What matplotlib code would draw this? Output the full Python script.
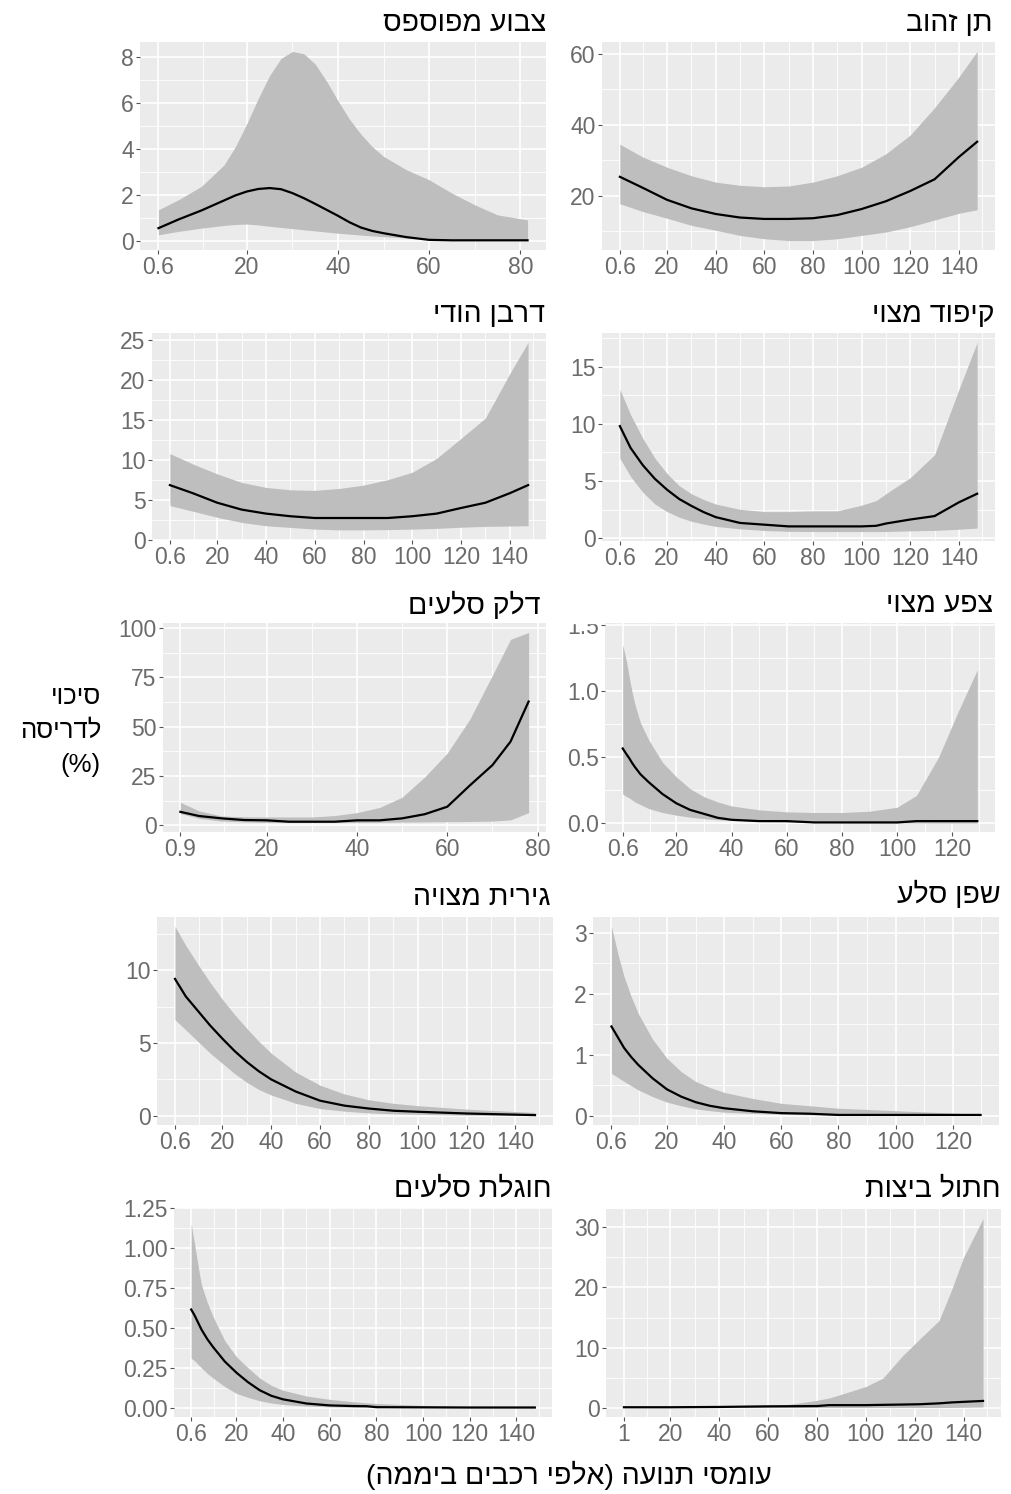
import matplotlib
matplotlib.use('Agg')
import matplotlib.pyplot as plt
from matplotlib.patches import Rectangle
import numpy as np

plt.rcParams['font.family'] = ['Liberation Sans', 'DejaVu Sans']

# ---- data ----
# striped hyena
x_hyena = [0.6, 5, 10, 15, 17.5, 20, 22.5, 25, 27.5, 30, 32.5, 35, 37.5, 40, 42.5, 45, 47.5, 50, 55, 60, 65, 70, 75, 81.6]
mid_hyena = [0.54, 0.92, 1.31, 1.75, 1.97, 2.14, 2.25, 2.29, 2.24, 2.07, 1.85, 1.6, 1.34, 1.08, 0.8, 0.57, 0.42, 0.32, 0.15, 0.03, 0.01, 0.01, 0.01, 0.01]
hi_hyena = [1.34, 1.78, 2.36, 3.3, 4.1, 5.1, 6.2, 7.2, 7.95, 8.25, 8.15, 7.7, 6.95, 6.1, 5.3, 4.65, 4.1, 3.67, 3.09, 2.65, 2.07, 1.56, 1.12, 0.9]
lo_hyena = [0.25, 0.4, 0.54, 0.66, 0.7, 0.72, 0.68, 0.62, 0.57, 0.52, 0.47, 0.42, 0.37, 0.32, 0.28, 0.24, 0.2, 0.17, 0.11, 0.06, 0.03, 0.02, 0.01, 0.0]

# golden jackal
x_jackal = [0.6, 10, 20, 30, 40, 50, 60, 70, 80, 90, 100, 110, 120, 130, 140, 147.5]
mid_jackal = [25.3, 22.2, 18.8, 16.4, 14.8, 13.8, 13.4, 13.4, 13.6, 14.5, 16.2, 18.4, 21.3, 24.6, 30.9, 35.2]
hi_jackal = [34.5, 30.9, 28, 25.6, 23.8, 22.9, 22.5, 22.7, 23.8, 25.6, 28, 31.8, 37.1, 44.8, 53.5, 60.7]
lo_jackal = [17.7, 15.5, 13.6, 11.6, 10.2, 8.75, 7.8, 7.3, 7.3, 7.8, 8.75, 9.7, 11.2, 13.1, 15, 16]

# indian porcupine
x_porc = [0.6, 10, 20, 30, 40, 50, 60, 70, 80, 90, 100, 110, 120, 130, 140, 147.5]
mid_porc = [6.86, 5.85, 4.66, 3.8, 3.3, 2.97, 2.75, 2.75, 2.75, 2.75, 2.97, 3.3, 4.0, 4.66, 5.85, 6.86]
hi_porc = [10.8, 9.5, 8.26, 7.2, 6.57, 6.27, 6.2, 6.44, 6.86, 7.54, 8.47, 10.2, 12.7, 15.25, 20.8, 24.7]
lo_porc = [4.3, 3.6, 2.84, 2.2, 1.78, 1.57, 1.36, 1.27, 1.27, 1.3, 1.36, 1.45, 1.6, 1.7, 1.75, 1.78]

# hedgehog
x_hedge = [0.6, 5, 10, 15, 20, 25, 30, 35, 40, 50, 60, 70, 80, 90, 100, 106, 110, 120, 130, 140, 147.5]
mid_hedge = [9.8, 7.9, 6.4, 5.2, 4.25, 3.44, 2.84, 2.3, 1.86, 1.35, 1.2, 1.05, 1.05, 1.05, 1.05, 1.1, 1.3, 1.65, 1.95, 3.15, 3.9]
hi_hedge = [13, 10.8, 8.74, 7.0, 5.66, 4.6, 3.9, 3.4, 3.0, 2.54, 2.34, 2.34, 2.4, 2.4, 2.9, 3.3, 3.9, 5.3, 7.3, 13.0, 17.1]
lo_hedge = [7, 5.4, 4.04, 3.0, 2.34, 1.85, 1.5, 1.25, 1.05, 0.84, 0.69, 0.62, 0.6, 0.6, 0.6, 0.6, 0.6, 0.66, 0.7, 0.8, 0.9]

# stone marten
x_marten = [0.9, 5, 10, 15, 20, 25, 30, 35, 40, 45, 50, 55, 60, 65, 70, 74, 78]
mid_marten = [6.9, 4.8, 3.6, 2.75, 2.6, 1.9, 1.9, 1.9, 2.6, 2.6, 3.6, 5.7, 9.5, 20.3, 30.6, 42.5, 62.8]
hi_marten = [11.7, 7.4, 4.8, 4.4, 4.3, 4.3, 4.3, 5.0, 6.5, 9.1, 14.3, 24.6, 36.7, 53.9, 76.2, 94.3, 97.8]
lo_marten = [6, 3.6, 2.2, 1.8, 1.5, 1.5, 1.5, 1.5, 1.5, 1.6, 1.7, 1.8, 1.9, 2.0, 2.2, 2.8, 6.5]

# viper
x_viper = [0.6, 2, 3, 4, 5, 7, 10, 15, 20, 25, 30, 35, 40, 50, 60, 70, 80, 90, 100, 107, 115, 122, 129]
mid_viper = [0.565, 0.52, 0.49, 0.455, 0.425, 0.37, 0.31, 0.22, 0.15, 0.10, 0.07, 0.04, 0.025, 0.015, 0.015, 0.005, 0.005, 0.005, 0.005, 0.015, 0.015, 0.015, 0.015]
hi_viper = [1.35, 1.22, 1.1, 0.99, 0.9, 0.76, 0.63, 0.46, 0.35, 0.26, 0.2, 0.16, 0.13, 0.10, 0.085, 0.08, 0.08, 0.09, 0.12, 0.21, 0.5, 0.84, 1.16]
lo_viper = [0.22, 0.2, 0.19, 0.175, 0.16, 0.14, 0.11, 0.08, 0.06, 0.045, 0.033, 0.025, 0.02, 0.012, 0.008, 0.005, 0.003, 0.002, 0.001, 0.001, 0, 0, 0]

# badger
x_badger = [0.6, 5, 10, 15, 20, 25, 30, 35, 40, 50, 60, 70, 80, 90, 100, 120, 148]
mid_badger = [9.4, 8.2, 7.2, 6.2, 5.3, 4.45, 3.7, 3.05, 2.5, 1.67, 1.04, 0.7, 0.5, 0.35, 0.28, 0.16, 0.05]
hi_badger = [13, 11.7, 10.4, 9.15, 8.0, 6.95, 6.0, 5.1, 4.3, 3.0, 2.1, 1.5, 1.1, 0.86, 0.7, 0.46, 0.23]
lo_badger = [6.6, 5.9, 5.1, 4.3, 3.6, 2.9, 2.3, 1.8, 1.43, 0.86, 0.5, 0.32, 0.2, 0.14, 0.1, 0.05, 0.02]

# rock hyrax
x_hyrax = [0.6, 3, 5, 7.5, 10, 15, 20, 25, 30, 35, 40, 50, 60, 70, 80, 100, 120, 129.7]
mid_hyrax = [1.46, 1.27, 1.11, 0.96, 0.83, 0.61, 0.43, 0.31, 0.22, 0.16, 0.12, 0.07, 0.04, 0.03, 0.01, 0.01, 0.01, 0.01]
hi_hyrax = [3.1, 2.62, 2.28, 1.95, 1.67, 1.25, 0.94, 0.72, 0.56, 0.46, 0.38, 0.28, 0.2, 0.16, 0.12, 0.08, 0.04, 0.02]
lo_hyrax = [0.69, 0.62, 0.56, 0.49, 0.42, 0.31, 0.22, 0.16, 0.11, 0.08, 0.055, 0.035, 0.02, 0.012, 0.008, 0.004, 0.002, 0.0]

# chukar
x_chukar = [0.6, 2, 3, 4, 5, 7.5, 10, 15, 20, 25, 30, 35, 40, 50, 60, 70, 76, 80, 100, 120, 148]
mid_chukar = [0.615, 0.58, 0.55, 0.52, 0.49, 0.43, 0.38, 0.29, 0.22, 0.16, 0.11, 0.075, 0.053, 0.027, 0.015, 0.011, 0.01, 0.004, 0.003, 0.002, 0.002]
hi_chukar = [1.15, 1.03, 0.94, 0.85, 0.77, 0.66, 0.57, 0.42, 0.32, 0.25, 0.186, 0.14, 0.11, 0.074, 0.053, 0.038, 0.031, 0.027, 0.015, 0.006, 0.004]
lo_chukar = [0.31, 0.295, 0.28, 0.265, 0.25, 0.215, 0.186, 0.133, 0.09, 0.065, 0.044, 0.03, 0.021, 0.011, 0.006, 0.004, 0.003, 0.002, 0.001, 0.0, 0.0]

# jungle cat
x_cat = [1, 20, 40, 60, 70, 80, 85, 90, 100, 107, 115, 122, 130, 135, 140, 148]
mid_cat = [0.05, 0.05, 0.1, 0.2, 0.22, 0.25, 0.4, 0.4, 0.4, 0.45, 0.5, 0.55, 0.7, 0.85, 0.95, 1.1]
hi_cat = [0.05, 0.06, 0.07, 0.2, 0.6, 1.2, 1.6, 2.2, 3.5, 4.9, 8.6, 11.4, 14.5, 19.5, 25, 31.5]
lo_cat = [0, 0, 0, 0, 0, 0, 0, 0, 0, 0, 0, 0, 0, 0.02, 0.05, 0.1]

titles = ['צבוע מפוספס', 'תן זהוב', 'דרבן הודי', 'קיפוד מצוי', 'דלק סלעים',
          'צפע מצוי', 'גירית מצויה', 'שפן סלע', 'חוגלת סלעים', 'חתול ביצות']

xt_80 = [0.6, 20, 40, 60, 80]
xt_140 = [0.6, 20, 40, 60, 80, 100, 120, 140]
xt_120 = [0.6, 20, 40, 60, 80, 100, 120]
xt_marten = [0.9, 20, 40, 60, 80]
xt_cat = [1, 20, 40, 60, 80, 100, 120, 140]

yt_hyena = [0, 2, 4, 6, 8]
yt_jackal = [20, 40, 60]
yt_porc = [0, 5, 10, 15, 20, 25]
yt_hedge = [0, 5, 10, 15]
yt_marten = [0, 25, 50, 75, 100]
yt_viper = [0.0, 0.5, 1.0, 1.5]
yt_badger = [0, 5, 10]
yt_hyrax = [0, 1, 2, 3]
yt_chukar = [0.0, 0.25, 0.5, 0.75, 1.0, 1.25]
yt_cat = [0, 10, 20, 30]

ylabel_lines = ['סיכוי', 'לדריסה', '(%)']
xlabel = 'עומסי תנועה (אלפי רכבים ביממה)'

panels = [
    (x_hyena, lo_hyena, mid_hyena, hi_hyena, xt_80, yt_hyena, '%g'),
    (x_jackal, lo_jackal, mid_jackal, hi_jackal, xt_140, yt_jackal, '%g'),
    (x_porc, lo_porc, mid_porc, hi_porc, xt_140, yt_porc, '%g'),
    (x_hedge, lo_hedge, mid_hedge, hi_hedge, xt_140, yt_hedge, '%g'),
    (x_marten, lo_marten, mid_marten, hi_marten, xt_marten, yt_marten, '%g'),
    (x_viper, lo_viper, mid_viper, hi_viper, xt_120, yt_viper, '%.1f'),
    (x_badger, lo_badger, mid_badger, hi_badger, xt_140, yt_badger, '%g'),
    (x_hyrax, lo_hyrax, mid_hyrax, hi_hyrax, xt_120, yt_hyrax, '%g'),
    (x_chukar, lo_chukar, mid_chukar, hi_chukar, xt_140, yt_chukar, '%.2f'),
    (x_cat, lo_cat, mid_cat, hi_cat, xt_cat, yt_cat, '%g'),
]

# panel boxes in pixels: left, top, right, bottom
boxes = [
    (140, 42, 546, 250), (602, 42, 995, 250),
    (152, 333, 546, 540), (602, 333, 995, 541),
    (163, 623, 546, 832), (605, 623, 995, 832),
    (157, 917, 553, 1125), (593, 917, 999, 1125),
    (174, 1208, 552, 1417), (606, 1209, 1001, 1417),
]
title_base = [31, 31, 322, 322, 614, 612, 905, 903, 1197, 1197]
title_right = [546, 993, 545, 995, 541, 993, 550, 1001, 552, 1001]

W, H = 1012, 1494


def heb(s):
    # matplotlib lays text out left to right: reverse for Hebrew, mirror brackets
    s = s[::-1]
    return s.translate(str.maketrans('()', ')('))


def minor_breaks(major, lo, hi):
    b = list(major)
    d = b[1] - b[0]
    if lo < b[0]:
        b = [b[0] - d] + b
    if hi > b[-1]:
        b = b + [b[-1] + d]
    m = [(b[i] + b[i + 1]) / 2 for i in range(len(b) - 1)]
    return [v for v in m if lo <= v <= hi]


fig = plt.figure(figsize=(W / 100, H / 100), dpi=100)

for i, (x, lo, mid, hi, xt, yt, yfmt) in enumerate(panels):
    l, t, r, b = boxes[i]
    ax = fig.add_axes([l / W, 1 - b / H, (r - l) / W, (b - t) / H])
    ax.set_facecolor('#ebebeb')
    ax.fill_between(x, lo, hi, color='#bebebe', lw=0, zorder=2)
    ax.plot(x, mid, color='black', lw=1.6, zorder=3)
    ax.margins(0.05)
    x0, x1 = ax.get_xlim()
    y0, y1 = ax.get_ylim()
    if i == 5:
        y1 = 1.515
    ax.set_xlim(x0, x1)
    ax.set_ylim(y0, y1)
    ax.set_xticks(xt)
    ax.set_xticklabels(['%g' % v for v in xt])
    ax.set_yticks(yt)
    ax.set_yticklabels([yfmt % v for v in yt])
    ax.set_xticks(minor_breaks(xt, x0, x1), minor=True)
    ax.set_yticks(minor_breaks(yt, y0, y1), minor=True)
    ax.grid(which='major', color='white', lw=1.2, zorder=1)
    ax.grid(which='minor', color='white', lw=0.6, zorder=1)
    ax.set_axisbelow(True)
    for s in ax.spines.values():
        s.set_visible(False)
    ax.tick_params(which='major', length=3, width=0.8, color='#555555', pad=1.5,
                   labelsize=16.5, labelcolor='#6b6b6b')
    ax.tick_params(which='minor', length=0)
    fig.text(title_right[i] / W, 1 - title_base[i] / H, heb(titles[i]), ha='right',
             va='baseline', fontsize=20.5, color='black')

# top of the '1.5' label is cut off in the reference
fig.add_artist(Rectangle((560 / W, 1 - 623 / H), 44 / W, 25 / H, transform=fig.transFigure,
                         color='white', zorder=10))

for line, yp in zip(ylabel_lines, [704, 738, 772]):
    fig.text(101 / W, 1 - yp / H, heb(line), ha='right', va='baseline', fontsize=18.5)

fig.text(569 / W, 1 - 1484 / H, heb(xlabel), ha='center', va='baseline', fontsize=20.5)

fig.savefig('out.png', dpi=100)
